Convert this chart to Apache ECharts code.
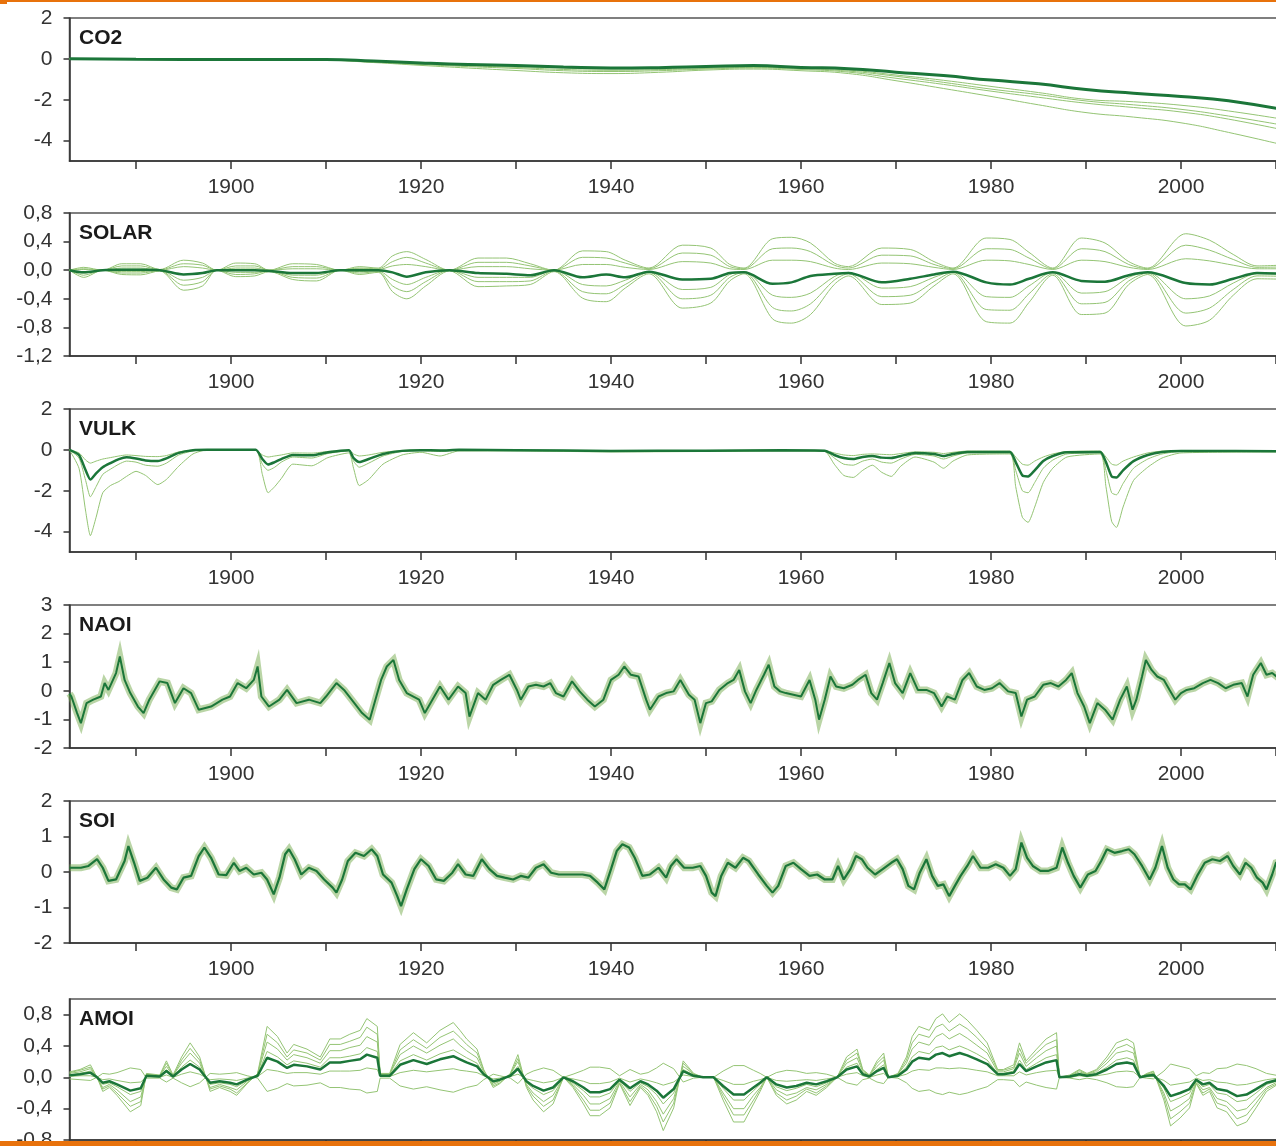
<!DOCTYPE html>
<html><head><meta charset="utf-8">
<script src="https://cdn.jsdelivr.net/npm/echarts@6/dist/echarts.min.js"></script>
<style>html,body{margin:0;padding:0;background:#fff}#c{width:1276px;height:1146px}</style>
</head><body><div id="c"></div>
<script>
// ---------- axis ticks / labels ----------
const xTickYears = [1890,1900,1910,1920,1930,1940,1950,1960,1970,1980,1990,2000,2010];
const xLabelYears = [1900,1920,1940,1960,1980,2000];
const co2Ticks = [-4,-2,0,2];
const solarTicks = [-1.2,-0.8,-0.4,0,0.4,0.8];
const vulkTicks = [-4,-2,0,2];
const naoiTicks = [-2,-1,0,1,2,3];
const soiTicks = [-2,-1,0,1,2];
const amoiTicks = [-0.8,-0.4,0,0.4,0.8];

// ---------- CO2 ----------
const co2Years = [1883,1890,1900,1910,1915,1920,1925,1930,1935,1940,1945,1950,1955,1960,1965,1970,1975,1980,1985,1990,1995,2000,2005,2012];
const co2Main  = [0,-0.02,-0.03,-0.03,-0.1,-0.2,-0.28,-0.33,-0.4,-0.45,-0.43,-0.38,-0.33,-0.42,-0.48,-0.65,-0.82,-1.04,-1.22,-1.5,-1.68,-1.84,-2.05,-2.6];
const co2Alt1  = [0,-0.02,-0.03,-0.04,-0.12,-0.22,-0.3,-0.37,-0.45,-0.5,-0.48,-0.42,-0.38,-0.45,-0.55,-0.79,-1.05,-1.35,-1.65,-1.98,-2.1,-2.27,-2.55,-3.05];
const co2Alt2  = [0,-0.02,-0.04,-0.05,-0.14,-0.25,-0.34,-0.42,-0.52,-0.56,-0.53,-0.47,-0.42,-0.48,-0.6,-0.85,-1.15,-1.48,-1.75,-2.06,-2.25,-2.47,-2.8,-3.35];
const co2Alt3  = [0,-0.03,-0.04,-0.06,-0.16,-0.28,-0.38,-0.47,-0.58,-0.62,-0.58,-0.5,-0.45,-0.52,-0.65,-0.95,-1.25,-1.58,-1.88,-2.17,-2.38,-2.6,-2.95,-3.6];
const co2Alt4  = [0,-0.03,-0.05,-0.07,-0.18,-0.32,-0.45,-0.57,-0.68,-0.72,-0.66,-0.55,-0.5,-0.58,-0.72,-1.07,-1.45,-1.84,-2.25,-2.63,-2.85,-3.13,-3.6,-4.35];

// ---------- SOLAR ----------
const solarYears = [1883,1884.5,1886.5,1888.5,1890.5,1892.5,1895,1897,1898.5,1900.5,1902.5,1904,1906.5,1909,1911.5,1913.5,1915.5,1917,1918.5,1920.5,1923,1926,1929,1931.5,1934,1937,1939.5,1941.5,1944,1947.5,1950.5,1952.5,1954,1957,1959,1961,1963.5,1965,1968.5,1971.5,1974,1976,1979.5,1982,1984,1986.5,1989.5,1992,1994.5,1996.5,2000.5,2003,2005.5,2008,2012];
const solarMain = [0,-0.03,0,0.005,0.005,0,-0.06,-0.04,0,0,0,-0.01,-0.04,-0.04,0,0,0,-0.03,-0.09,-0.03,0,-0.04,-0.05,-0.07,0,-0.1,-0.06,-0.1,-0.02,-0.13,-0.12,-0.04,-0.03,-0.19,-0.17,-0.08,-0.05,-0.04,-0.17,-0.12,-0.06,-0.02,-0.17,-0.2,-0.12,-0.03,-0.15,-0.16,-0.07,-0.03,-0.18,-0.2,-0.12,-0.04,-0.06];
const solarHi1 = [0,0.04,0,0.09,0.09,0.01,0.14,0.1,0,0.1,0.09,0,0.09,0.08,0,0.05,0.03,0.2,0.26,0.15,0,0.17,0.17,0.09,0,0.27,0.26,0.14,0.03,0.35,0.31,0.08,0.03,0.44,0.46,0.38,0.1,0.05,0.31,0.29,0.12,0.03,0.45,0.43,0.25,0.03,0.45,0.38,0.12,0.03,0.51,0.42,0.22,0.06,0.08];
const solarHi2 = [0,0.02,0,0.06,0.06,0.005,0.09,0.07,0,0.06,0.06,0,0.05,0.05,0,0.03,0.02,0.12,0.18,0.1,0,0.11,0.11,0.06,0,0.18,0.17,0.1,0.02,0.24,0.21,0.05,0.02,0.3,0.31,0.26,0.07,0.03,0.21,0.2,0.08,0.02,0.3,0.29,0.17,0.02,0.3,0.26,0.08,0.02,0.35,0.28,0.15,0.04,0.05];
const solarHi3 = [0,0.01,0,0.03,0.03,0,0.05,0.03,0,0.03,0.03,0,0.02,0.02,0,0.02,0.01,0.06,0.08,0.05,0,0.05,0.05,0.02,0,0.08,0.08,0.04,0.01,0.12,0.1,0.02,0.01,0.14,0.14,0.12,0.03,0.01,0.1,0.09,0.04,0.01,0.14,0.13,0.08,0.01,0.14,0.12,0.04,0.01,0.16,0.13,0.07,0.02,0.02];
const solarLo1 = [0,-0.1,0,-0.06,-0.065,-0.01,-0.28,-0.22,0,-0.09,-0.08,-0.02,-0.13,-0.15,0,-0.06,-0.03,-0.3,-0.4,-0.22,-0.01,-0.23,-0.22,-0.2,-0.02,-0.39,-0.44,-0.25,-0.05,-0.53,-0.46,-0.15,-0.05,-0.68,-0.74,-0.62,-0.2,-0.08,-0.48,-0.46,-0.22,-0.05,-0.72,-0.74,-0.45,-0.07,-0.62,-0.6,-0.2,-0.06,-0.78,-0.7,-0.35,-0.12,-0.13];
const solarLo2 = [0,-0.07,0,-0.04,-0.04,-0.005,-0.21,-0.16,0,-0.06,-0.05,-0.01,-0.1,-0.11,0,-0.04,-0.02,-0.22,-0.3,-0.16,0,-0.16,-0.16,-0.15,-0.01,-0.3,-0.33,-0.2,-0.03,-0.4,-0.35,-0.1,-0.03,-0.52,-0.57,-0.47,-0.14,-0.05,-0.37,-0.35,-0.16,-0.03,-0.55,-0.56,-0.33,-0.05,-0.47,-0.45,-0.15,-0.04,-0.6,-0.53,-0.27,-0.08,-0.09];
const solarLo3 = [0,-0.04,0,-0.02,-0.02,0,-0.14,-0.1,0,-0.03,-0.03,-0.01,-0.07,-0.07,0,-0.02,-0.01,-0.13,-0.2,-0.1,0,-0.1,-0.1,-0.1,0,-0.2,-0.22,-0.14,-0.02,-0.27,-0.24,-0.06,-0.02,-0.35,-0.38,-0.32,-0.09,-0.03,-0.25,-0.23,-0.1,-0.02,-0.37,-0.38,-0.22,-0.03,-0.32,-0.3,-0.1,-0.03,-0.4,-0.36,-0.18,-0.05,-0.06];

// ---------- VULK ----------
const vulkYears = [1883,1884,1884.7,1885.2,1885.8,1886.5,1887.3,1888.2,1889,1890,1891,1892.3,1893.2,1894.5,1896,1897.5,1902.6,1903.3,1903.9,1904.6,1905.3,1906.5,1908.5,1910.2,1912.4,1912.9,1913.5,1914.5,1916,1918,1920,1922,1924,1930,1940,1950,1958,1962.5,1963.5,1964.5,1965.5,1966.5,1967.5,1968.5,1969.5,1970.5,1972,1974,1975,1976,1977.5,1982,1982.6,1983.3,1983.9,1984.6,1985.5,1986.5,1988,1991.5,1992.1,1992.7,1993.2,1993.9,1995,1996.5,1998,2000,2012];
const vulkMain = [0,-0.25,-1.0,-1.45,-1.15,-0.85,-0.65,-0.45,-0.36,-0.42,-0.52,-0.55,-0.42,-0.15,-0.02,0,0,-0.45,-0.72,-0.6,-0.45,-0.25,-0.27,-0.12,-0.02,-0.4,-0.6,-0.45,-0.2,-0.05,-0.02,-0.03,0,-0.02,-0.05,-0.04,-0.02,-0.04,-0.25,-0.4,-0.45,-0.35,-0.3,-0.38,-0.4,-0.3,-0.15,-0.2,-0.3,-0.2,-0.1,-0.1,-0.6,-1.25,-1.3,-1.0,-0.55,-0.3,-0.12,-0.1,-0.6,-1.3,-1.35,-1.0,-0.55,-0.25,-0.1,-0.05,-0.08];
const vulkIn   = [0,-0.15,-0.5,-0.65,-0.55,-0.45,-0.38,-0.3,-0.25,-0.28,-0.32,-0.33,-0.28,-0.1,-0.01,0,0,-0.25,-0.35,-0.3,-0.25,-0.15,-0.16,-0.08,-0.01,-0.2,-0.3,-0.25,-0.12,-0.03,-0.01,-0.02,0,-0.01,-0.03,-0.03,-0.01,-0.03,-0.15,-0.25,-0.28,-0.22,-0.2,-0.22,-0.24,-0.18,-0.1,-0.12,-0.18,-0.12,-0.06,-0.06,-0.35,-0.7,-0.75,-0.55,-0.35,-0.2,-0.08,-0.06,-0.35,-0.7,-0.75,-0.55,-0.35,-0.15,-0.06,-0.03,-0.05];
const vulkMid  = [0,-0.4,-1.5,-2.3,-1.8,-1.2,-0.95,-0.7,-0.55,-0.6,-0.75,-0.8,-0.65,-0.25,-0.05,0,0,-0.7,-1.0,-0.85,-0.6,-0.35,-0.4,-0.18,-0.05,-0.55,-0.85,-0.65,-0.3,-0.08,-0.04,-0.08,-0.02,-0.03,-0.07,-0.06,-0.03,-0.05,-0.4,-0.7,-0.75,-0.55,-0.45,-0.6,-0.65,-0.45,-0.22,-0.3,-0.45,-0.3,-0.15,-0.15,-1.0,-2.0,-2.1,-1.6,-0.9,-0.5,-0.2,-0.15,-1.0,-2.1,-2.2,-1.65,-0.9,-0.45,-0.2,-0.08,-0.08];
const vulkOut  = [0,-0.9,-3.0,-4.2,-3.3,-2.1,-1.75,-1.55,-1.3,-1.05,-1.25,-1.7,-1.45,-0.8,-0.2,0,0,-1.2,-2.1,-1.8,-1.4,-0.7,-0.78,-0.38,-0.15,-0.9,-1.75,-1.45,-0.7,-0.25,-0.12,-0.3,-0.05,-0.05,-0.1,-0.08,-0.05,-0.08,-0.7,-1.25,-1.35,-1.0,-0.75,-1.1,-1.3,-0.8,-0.35,-0.6,-0.9,-0.55,-0.25,-0.2,-1.8,-3.3,-3.55,-2.8,-1.6,-0.9,-0.35,-0.2,-1.8,-3.5,-3.8,-2.8,-1.5,-0.85,-0.4,-0.15,-0.1];

// ---------- NAOI ----------
const naoiYears = [1883,1883.2,1883.8,1884.2,1884.8,1885.5,1886.3,1886.7,1887.1,1887.9,1888.3,1888.8,1889.4,1890.2,1890.8,1891.4,1892.5,1893.3,1894.1,1895,1895.8,1896.6,1897.9,1899.1,1899.9,1900.7,1901.6,1902.4,1902.8,1903.2,1904,1905.1,1905.9,1906.9,1908.2,1909.4,1910,1911.1,1911.9,1912.7,1913.8,1914.6,1915.2,1915.8,1916.4,1917.1,1917.7,1918.5,1919.8,1920.4,1921.2,1922,1922.9,1923.9,1924.7,1925.1,1926,1926.8,1927.6,1928.4,1929.3,1930.1,1930.5,1931.3,1932.1,1932.9,1933.6,1934.2,1935,1935.9,1936.7,1937.5,1938.3,1939.2,1940,1940.8,1941.4,1942.1,1942.9,1943.7,1944.1,1945,1945.8,1946.6,1947.3,1948.2,1948.8,1949.4,1950,1950.6,1951.4,1952.3,1952.9,1953.5,1954.1,1954.7,1955.3,1956.1,1956.6,1957.2,1957.8,1958.4,1959.2,1960,1960.9,1961.5,1961.9,1962.5,1963.1,1963.7,1964.5,1965.4,1966,1966.8,1967.4,1968,1968.6,1969.3,1969.9,1970.7,1971.5,1972.3,1973.2,1974,1974.8,1975.4,1976.2,1977,1977.7,1978.5,1979.3,1980.1,1980.9,1981.8,1982.6,1983.2,1983.8,1984.6,1985.5,1986.3,1987.1,1987.9,1988.5,1989.1,1989.8,1990.4,1991.2,1992,1992.8,1993.6,1994.3,1994.9,1995.3,1995.9,1996.3,1996.9,1997.5,1998.2,1998.8,1999.4,2000,2000.6,2001.4,2002.3,2003.1,2003.9,2004.7,2005.5,2006.4,2007,2007.6,2008.4,2009,2009.6,2010.5,2012];
const naoiMain = [-0.1,-0.2,-0.78,-1.13,-0.43,-0.31,-0.2,0.27,0.03,0.62,1.2,0.38,-0.08,-0.55,-0.78,-0.31,0.33,0.27,-0.43,0.09,-0.08,-0.66,-0.55,-0.31,-0.2,0.27,0.09,0.38,0.85,-0.2,-0.55,-0.31,0.03,-0.43,-0.31,-0.43,-0.2,0.27,0.03,-0.31,-0.78,-1.01,-0.31,0.38,0.85,1.08,0.38,-0.08,-0.31,-0.78,-0.31,0.15,-0.31,0.15,-0.08,-0.9,-0.08,-0.31,0.21,0.38,0.56,0.03,-0.31,0.15,0.21,0.15,0.27,-0.08,-0.2,0.33,-0.02,-0.31,-0.55,-0.31,0.38,0.56,0.85,0.56,0.5,-0.31,-0.66,-0.2,-0.08,-0.02,0.38,-0.14,-0.31,-1.13,-0.43,-0.37,0.03,0.27,0.38,0.73,-0.02,-0.43,0.03,0.56,0.91,0.15,-0.02,-0.08,-0.14,-0.2,0.38,-0.31,-1.01,-0.31,0.5,0.15,0.09,0.21,0.38,0.56,-0.08,-0.31,0.27,0.97,0.27,-0.08,0.62,0.03,0.03,-0.08,-0.55,-0.2,-0.31,0.38,0.62,0.15,0.03,0.09,0.27,-0.02,-0.08,-0.9,-0.31,-0.2,0.21,0.27,0.15,0.38,0.62,-0.08,-0.55,-1.13,-0.43,-0.66,-1.01,-0.31,0.15,-0.66,-0.31,0.5,1.08,0.73,0.5,0.38,0.03,-0.31,-0.08,0.03,0.09,0.27,0.38,0.27,0.09,0.21,0.27,-0.2,0.56,0.97,0.56,0.62,0.38,0.27];

// ---------- SOI ----------
const soiYears = [1883,1884.2,1885,1885.9,1886.5,1887.1,1887.9,1888.8,1889.2,1889.8,1890.4,1891.2,1892.1,1892.9,1893.7,1894.3,1895,1895.8,1896.6,1897.2,1897.9,1898.7,1899.5,1900.3,1900.9,1901.6,1902.4,1903.2,1903.8,1904.5,1905.1,1905.7,1906.1,1906.7,1907.4,1908.2,1909,1909.8,1910.7,1911.1,1911.7,1912.3,1913.1,1914,1914.8,1915.4,1916,1916.9,1917.5,1917.9,1918.5,1919.3,1920,1920.8,1921.6,1922.4,1923.3,1923.9,1924.7,1925.5,1926.4,1927.2,1928,1928.8,1929.7,1930.5,1931.3,1932.1,1932.9,1933.7,1934.5,1935.4,1936.2,1937,1937.8,1938.6,1939.3,1940,1940.6,1941.2,1941.9,1942.5,1943.3,1944.1,1945,1945.8,1946.3,1946.9,1947.7,1948.6,1949.4,1950,1950.6,1951,1951.6,1952.3,1953.1,1953.9,1954.5,1955.5,1956.4,1957,1957.6,1958.4,1959.2,1960,1960.9,1961.7,1962.5,1963.3,1963.9,1964.5,1965.2,1965.8,1966.4,1967,1967.8,1968.6,1969.5,1970.1,1970.7,1971.3,1971.9,1972.5,1973.2,1973.8,1974.4,1975,1975.6,1976.2,1976.8,1977.5,1978.1,1978.9,1979.7,1980.5,1981.3,1982,1982.6,1983.2,1983.8,1984.4,1985.2,1986,1986.9,1987.5,1988.1,1988.7,1989.4,1990.2,1991,1991.6,1992.2,1993,1993.8,1994.5,1995.1,1995.9,1996.7,1997.3,1998,1998.6,1999.2,1999.8,2000.4,2001,2001.7,2002.5,2003.3,2004.1,2004.9,2005.5,2006.2,2006.8,2007.4,2008,2008.6,2009,2009.6,2010,2012];
const soiMain = [0.12,0.12,0.17,0.36,0.12,-0.25,-0.21,0.31,0.73,0.26,-0.25,-0.16,0.12,-0.21,-0.44,-0.49,-0.16,-0.11,0.45,0.69,0.4,-0.07,-0.09,0.26,0.03,0.12,-0.07,-0.02,-0.21,-0.63,-0.16,0.5,0.64,0.36,-0.07,0.12,0.03,-0.21,-0.44,-0.58,-0.21,0.31,0.54,0.45,0.64,0.45,-0.07,-0.3,-0.68,-0.96,-0.49,0.08,0.36,0.17,-0.21,-0.25,-0.02,0.22,-0.07,-0.11,0.36,0.08,-0.11,-0.16,-0.21,-0.11,-0.16,0.12,0.22,-0.02,-0.07,-0.07,-0.07,-0.07,-0.11,-0.3,-0.49,0.08,0.59,0.78,0.69,0.4,-0.11,-0.07,0.12,-0.16,0.17,0.36,0.12,0.12,0.17,-0.11,-0.58,-0.68,-0.11,0.26,0.12,0.4,0.31,-0.07,-0.39,-0.58,-0.39,0.17,0.26,0.08,-0.11,-0.07,-0.21,-0.21,0.17,-0.21,0.08,0.45,0.36,0.12,-0.07,0.08,0.26,0.36,0.08,-0.39,-0.49,-0.02,0.36,-0.11,-0.39,-0.35,-0.68,-0.39,-0.11,0.17,0.45,0.12,0.12,0.22,0.12,-0.11,0.08,0.83,0.4,0.17,0.03,0.03,0.12,0.69,0.26,-0.11,-0.44,-0.07,0.03,0.31,0.64,0.54,0.59,0.64,0.5,0.17,-0.21,0.12,0.73,0.12,-0.21,-0.35,-0.35,-0.49,-0.11,0.26,0.36,0.31,0.45,0.17,-0.07,0.26,0.12,-0.16,-0.3,-0.49,-0.07,0.26,0.45];

// ---------- AMOI ----------
const amoiYears = [1883,1884.1,1885.2,1885.9,1886.5,1887.2,1888,1889.4,1890.5,1891.1,1892.5,1893.2,1893.9,1894.8,1895.7,1896.7,1897.8,1898.8,1899.9,1900.6,1901.7,1902.8,1903.8,1904.9,1905.9,1906.6,1908,1909.4,1910.4,1911.5,1912.5,1913.6,1914.3,1915.4,1915.7,1916.7,1917.8,1919.2,1920.6,1922,1923.4,1924.1,1924.8,1925.9,1926.6,1927.6,1928.3,1929.4,1930.2,1931.1,1931.8,1932.9,1933.9,1935,1936,1937.1,1937.8,1938.8,1939.9,1940.9,1942,1943.1,1943.9,1944.8,1945.5,1946.6,1947.6,1948.7,1949.7,1950.8,1951.8,1952.9,1954,1955,1955.7,1956.4,1957.4,1958.5,1959.5,1960.6,1961.6,1962.7,1963.8,1964.8,1965.9,1966.5,1967.2,1968,1968.7,1969.2,1970.2,1971.1,1971.7,1972.4,1973.5,1974.2,1974.9,1975.6,1976.7,1977.5,1978.5,1979.6,1980.7,1981.3,1982.4,1983,1983.7,1984.8,1985.8,1986.9,1987.2,1988.3,1989.3,1990.1,1991.1,1992.2,1993.2,1994.3,1995,1995.7,1996.4,1997.1,1998.2,1998.9,1999.9,2000.9,2001.6,2002.3,2003,2003.8,2004.8,2005.9,2006.9,2007.9,2009,2010.3,2012];
const amoiMain = [0.025,0.04,0.06,0,-0.07,-0.05,-0.09,-0.17,-0.14,0.02,0.01,0.08,0.01,0.1,0.17,0.1,-0.07,-0.05,-0.07,-0.09,-0.03,0.02,0.25,0.2,0.12,0.16,0.14,0.1,0.19,0.19,0.21,0.23,0.29,0.25,0.02,0.02,0.16,0.22,0.17,0.23,0.27,0.23,0.19,0.14,0.04,-0.05,-0.03,0.02,0.11,-0.05,-0.11,-0.17,-0.13,0,-0.05,-0.13,-0.19,-0.19,-0.15,-0.03,-0.14,-0.05,-0.09,-0.17,-0.26,-0.15,0.08,0.02,0,0,-0.11,-0.22,-0.22,-0.13,-0.07,0,-0.09,-0.13,-0.11,-0.07,-0.09,-0.05,0,0.1,0.14,0.04,0.01,0.08,0.12,0,0.02,0.1,0.2,0.25,0.23,0.29,0.31,0.27,0.31,0.28,0.23,0.17,0.04,0.04,0.06,0.17,0.08,0.14,0.19,0.22,0,0.01,0.04,0.02,0.04,0.1,0.17,0.19,0.17,0,0.02,0.03,-0.11,-0.24,-0.2,-0.15,-0.03,-0.09,-0.07,-0.15,-0.17,-0.24,-0.22,-0.15,-0.07,-0.03,-0.05];
const amoiOuter = [0.07,0.1,0.16,0,-0.18,-0.13,-0.23,-0.44,-0.36,0.05,0.03,0.21,0.03,0.26,0.44,0.26,-0.18,-0.13,-0.18,-0.23,-0.08,0.05,0.65,0.52,0.31,0.42,0.36,0.26,0.49,0.49,0.55,0.6,0.75,0.65,0.05,0.05,0.42,0.57,0.44,0.6,0.7,0.6,0.49,0.36,0.1,-0.13,-0.08,0.05,0.29,-0.13,-0.29,-0.44,-0.34,0,-0.13,-0.34,-0.49,-0.49,-0.39,-0.08,-0.36,-0.13,-0.23,-0.44,-0.68,-0.39,0.21,0.05,0,0,-0.29,-0.57,-0.57,-0.34,-0.18,0,-0.23,-0.34,-0.29,-0.18,-0.23,-0.13,0,0.26,0.36,0.1,0.03,0.21,0.31,0,0.05,0.26,0.52,0.65,0.6,0.75,0.81,0.7,0.81,0.73,0.6,0.44,0.1,0.1,0.16,0.44,0.21,0.36,0.49,0.57,0,0.03,0.1,0.05,0.1,0.26,0.44,0.49,0.44,0,0.05,0.08,-0.29,-0.62,-0.52,-0.39,-0.08,-0.23,-0.18,-0.39,-0.44,-0.62,-0.57,-0.39,-0.18,-0.08,-0.13];
const amoiHigh = [0.06,0.09,0.13,0,-0.15,-0.11,-0.2,-0.37,-0.31,0.04,0.02,0.18,0.02,0.22,0.37,0.22,-0.15,-0.11,-0.15,-0.2,-0.07,0.04,0.55,0.44,0.26,0.35,0.31,0.22,0.42,0.42,0.46,0.51,0.64,0.55,0.04,0.04,0.35,0.48,0.37,0.51,0.59,0.51,0.42,0.31,0.09,-0.11,-0.07,0.04,0.24,-0.11,-0.24,-0.37,-0.29,0,-0.11,-0.29,-0.42,-0.42,-0.33,-0.07,-0.31,-0.11,-0.2,-0.37,-0.57,-0.33,0.18,0.04,0,0,-0.24,-0.48,-0.48,-0.29,-0.15,0,-0.2,-0.29,-0.24,-0.15,-0.2,-0.11,0,0.22,0.31,0.09,0.02,0.18,0.26,0,0.04,0.22,0.44,0.55,0.51,0.64,0.68,0.59,0.68,0.62,0.51,0.37,0.09,0.09,0.13,0.37,0.18,0.31,0.42,0.48,0,0.02,0.09,0.04,0.09,0.22,0.37,0.42,0.37,0,0.04,0.07,-0.24,-0.53,-0.44,-0.33,-0.07,-0.2,-0.15,-0.33,-0.37,-0.53,-0.48,-0.33,-0.15,-0.07,-0.11];
const amoiMid = [0.05,0.07,0.11,0,-0.13,-0.09,-0.16,-0.31,-0.25,0.04,0.02,0.14,0.02,0.18,0.31,0.18,-0.13,-0.09,-0.13,-0.16,-0.05,0.04,0.45,0.36,0.22,0.29,0.25,0.18,0.34,0.34,0.38,0.41,0.52,0.45,0.04,0.04,0.29,0.4,0.31,0.41,0.49,0.41,0.34,0.25,0.07,-0.09,-0.05,0.04,0.2,-0.09,-0.2,-0.31,-0.23,0,-0.09,-0.23,-0.34,-0.34,-0.27,-0.05,-0.25,-0.09,-0.16,-0.31,-0.47,-0.27,0.14,0.04,0,0,-0.2,-0.4,-0.4,-0.23,-0.13,0,-0.16,-0.23,-0.2,-0.13,-0.16,-0.09,0,0.18,0.25,0.07,0.02,0.14,0.22,0,0.04,0.18,0.36,0.45,0.41,0.52,0.56,0.49,0.56,0.5,0.41,0.31,0.07,0.07,0.11,0.31,0.14,0.25,0.34,0.4,0,0.02,0.07,0.04,0.07,0.18,0.31,0.34,0.31,0,0.04,0.05,-0.2,-0.43,-0.36,-0.27,-0.05,-0.16,-0.13,-0.27,-0.31,-0.43,-0.4,-0.27,-0.13,-0.05,-0.09];
const amoiNear = [0.03,0.05,0.08,0,-0.09,-0.07,-0.12,-0.22,-0.18,0.03,0.01,0.1,0.01,0.13,0.22,0.13,-0.09,-0.07,-0.09,-0.12,-0.04,0.03,0.33,0.26,0.16,0.21,0.18,0.13,0.25,0.25,0.27,0.3,0.38,0.33,0.03,0.03,0.21,0.29,0.22,0.3,0.35,0.3,0.25,0.18,0.05,-0.07,-0.04,0.03,0.14,-0.07,-0.14,-0.22,-0.17,0,-0.07,-0.17,-0.25,-0.25,-0.2,-0.04,-0.18,-0.07,-0.12,-0.22,-0.34,-0.2,0.1,0.03,0,0,-0.14,-0.29,-0.29,-0.17,-0.09,0,-0.12,-0.17,-0.14,-0.09,-0.12,-0.07,0,0.13,0.18,0.05,0.01,0.1,0.16,0,0.03,0.13,0.26,0.33,0.3,0.38,0.4,0.35,0.4,0.36,0.3,0.22,0.05,0.05,0.08,0.22,0.1,0.18,0.25,0.29,0,0.01,0.05,0.03,0.05,0.13,0.22,0.25,0.22,0,0.03,0.04,-0.14,-0.31,-0.26,-0.2,-0.04,-0.12,-0.09,-0.2,-0.22,-0.31,-0.29,-0.2,-0.09,-0.04,-0.07];
const amoiInner = [0.01,0.02,0.02,0,-0.03,-0.02,-0.04,-0.07,-0.06,0.01,0,0.03,0,0.04,0.07,0.04,-0.03,-0.02,-0.03,-0.04,-0.01,0.01,0.1,0.08,0.05,0.06,0.06,0.04,0.08,0.08,0.08,0.09,0.12,0.1,0.01,0.01,0.06,0.09,0.07,0.09,0.11,0.09,0.08,0.06,0.02,-0.02,-0.01,0.01,0.04,-0.02,-0.04,-0.07,-0.05,0,-0.02,-0.05,-0.08,-0.08,-0.06,-0.01,-0.06,-0.02,-0.04,-0.07,-0.1,-0.06,0.03,0.01,0,0,-0.04,-0.09,-0.09,-0.05,-0.03,0,-0.04,-0.05,-0.04,-0.03,-0.04,-0.02,0,0.04,0.06,0.02,0,0.03,0.05,0,0.01,0.04,0.08,0.1,0.09,0.12,0.12,0.11,0.12,0.11,0.09,0.07,0.02,0.02,0.02,0.07,0.03,0.06,0.08,0.09,0,0,0.02,0.01,0.02,0.04,0.07,0.08,0.07,0,0.01,0.01,-0.04,-0.1,-0.08,-0.06,-0.01,-0.04,-0.03,-0.06,-0.07,-0.1,-0.09,-0.06,-0.03,-0.01,-0.02];
const amoiMirror = [-0.02,-0.03,-0.04,0,0.05,0.04,0.06,0.12,0.1,-0.01,-0.01,-0.06,-0.01,-0.07,-0.12,-0.07,0.05,0.04,0.05,0.06,0.02,-0.01,-0.18,-0.14,-0.08,-0.11,-0.1,-0.07,-0.13,-0.13,-0.15,-0.16,-0.2,-0.18,-0.01,-0.01,-0.11,-0.15,-0.12,-0.16,-0.19,-0.16,-0.13,-0.1,-0.03,0.04,0.02,-0.01,-0.08,0.04,0.08,0.12,0.09,0,0.04,0.09,0.13,0.13,0.11,0.02,0.1,0.04,0.06,0.12,0.18,0.11,-0.06,-0.01,0,0,0.08,0.15,0.15,0.09,0.05,0,0.06,0.09,0.08,0.05,0.06,0.04,0,-0.07,-0.1,-0.03,-0.01,-0.06,-0.08,0,-0.01,-0.07,-0.14,-0.18,-0.16,-0.2,-0.22,-0.19,-0.22,-0.2,-0.16,-0.12,-0.03,-0.03,-0.04,-0.12,-0.06,-0.1,-0.13,-0.15,0,-0.01,-0.03,-0.01,-0.03,-0.07,-0.12,-0.13,-0.12,0,-0.01,-0.02,0.08,0.17,0.14,0.11,0.02,0.06,0.05,0.11,0.12,0.17,0.15,0.11,0.05,0.02,0.04];

// ---------- layout / style ----------
const FONT = '"Liberation Sans", Arial, Helvetica, sans-serif';
const C_DARK = '#1b7639';
const C_THIN = '#94c474';
const C_BAND = 'rgba(118,172,78,0.5)';
const ORANGE = '#e8720c';
const X_MIN = 1883, X_MAX = 2012;

const panels = [
  {title:'CO2',   min:-5,   max:2,   ticks:co2Ticks,   dec:0, top:18,  h:143},
  {title:'SOLAR', min:-1.2, max:0.8, ticks:solarTicks, dec:1, top:213, h:143},
  {title:'VULK',  min:-5,   max:2,   ticks:vulkTicks,  dec:0, top:409, h:143},
  {title:'NAOI',  min:-2,   max:3,   ticks:naoiTicks,  dec:0, top:605, h:143},
  {title:'SOI',   min:-2,   max:2,   ticks:soiTicks,   dec:0, top:801, h:142},
  {title:'AMOI',  min:-0.8, max:1.0, ticks:amoiTicks,  dec:1, top:999, h:141}
];

function pts(xs, ys){ return xs.map((x,i)=>[x, ys[i]]); }
function thin(i, xs, ys, smooth){
  return {type:'line', xAxisIndex:i, yAxisIndex:i, data:pts(xs,ys), symbol:'none', smooth:smooth||false,
    lineStyle:{width:1, color:C_THIN}, z:2, silent:true, animation:false};
}
function band(i, xs, ys){
  return {type:'line', xAxisIndex:i, yAxisIndex:i, data:pts(xs,ys), symbol:'none',
    lineStyle:{width:7, color:C_BAND, join:'miter'}, z:3, silent:true, animation:false};
}
function dark(i, xs, ys, smooth, w){
  return {type:'line', xAxisIndex:i, yAxisIndex:i, data:pts(xs,ys), symbol:'none', smooth:smooth||false,
    lineStyle:{width:w||2.5, color:C_DARK}, z:4, silent:true, animation:false};
}
function fmt(v, dec){ const s = dec ? Number(v).toFixed(1) : String(Math.round(v)); return s.replace('.', ','); }

const series = [
  thin(0,co2Years,co2Alt4,true), thin(0,co2Years,co2Alt3,true), thin(0,co2Years,co2Alt2,true), thin(0,co2Years,co2Alt1,true),
  dark(0,co2Years,co2Main,true,3),
  thin(1,solarYears,solarHi1,0.3), thin(1,solarYears,solarHi2,0.3), thin(1,solarYears,solarHi3,0.3),
  thin(1,solarYears,solarLo1,0.3), thin(1,solarYears,solarLo2,0.3), thin(1,solarYears,solarLo3,0.3),
  dark(1,solarYears,solarMain,0.3,2.5),
  thin(2,vulkYears,vulkOut,0.2), thin(2,vulkYears,vulkMid,0.2), thin(2,vulkYears,vulkIn,0.2),
  dark(2,vulkYears,vulkMain,0.2,2.5),
  band(3,naoiYears,naoiMain), dark(3,naoiYears,naoiMain,false,2),
  band(4,soiYears,soiMain), dark(4,soiYears,soiMain,false,2.2),
  thin(5,amoiYears,amoiOuter), thin(5,amoiYears,amoiHigh), thin(5,amoiYears,amoiMid), thin(5,amoiYears,amoiNear),
  thin(5,amoiYears,amoiInner), thin(5,amoiYears,amoiMirror),
  dark(5,amoiYears,amoiMain,false,2.5)
];

const option = {
  animation:false,
  backgroundColor:'#ffffff',
  title: panels.map(p=>({text:p.title, left:79, top:p.top+10, padding:0,
    textStyle:{fontSize:21, fontWeight:'bold', color:'#1a1a1a', fontFamily:FONT}})),
  grid: panels.map(p=>({left:69.5, top:p.top, width:1225.5, height:p.h, show:true,
    borderColor:'#555', borderWidth:1.5, backgroundColor:'transparent', containLabel:false, outerBoundsMode:'none'})),
  xAxis: panels.map((p,i)=>({gridIndex:i, type:'value', min:X_MIN, max:X_MAX,
    axisLine:{show:true, onZero:false, lineStyle:{color:'#333', width:1.5}},
    axisTick:{show:true, inside:false, length:8, customValues:xTickYears, lineStyle:{color:'#333', width:1.5}},
    axisLabel:{show:true, customValues:xLabelYears, margin:16, fontSize:21, color:'#333', fontFamily:FONT, formatter:v=>String(v)},
    splitLine:{show:false}})),
  yAxis: panels.map((p,i)=>({gridIndex:i, type:'value', min:p.min, max:p.max,
    axisLine:{show:true, onZero:false, lineStyle:{color:'#333', width:1.5}},
    axisTick:{show:true, inside:false, length:6, customValues:p.ticks, lineStyle:{color:'#333', width:1.5}},
    axisLabel:{show:true, customValues:p.ticks, margin:17, fontSize:21, color:'#333', fontFamily:FONT, formatter:v=>fmt(v,p.dec)},
    splitLine:{show:false}})),
  series: series,
  graphic: [
    {type:'rect', z:100, shape:{x:0, y:0, width:1276, height:2}, style:{fill:ORANGE}},
    {type:'rect', z:100, shape:{x:0, y:0, width:7, height:4}, style:{fill:ORANGE}},
    {type:'rect', z:100, shape:{x:0, y:1141, width:1276, height:5}, style:{fill:ORANGE}}
  ]
};

const chart = echarts.init(document.getElementById('c'), null, {renderer:'canvas'});
chart.setOption(option);
</script>
</body></html>
